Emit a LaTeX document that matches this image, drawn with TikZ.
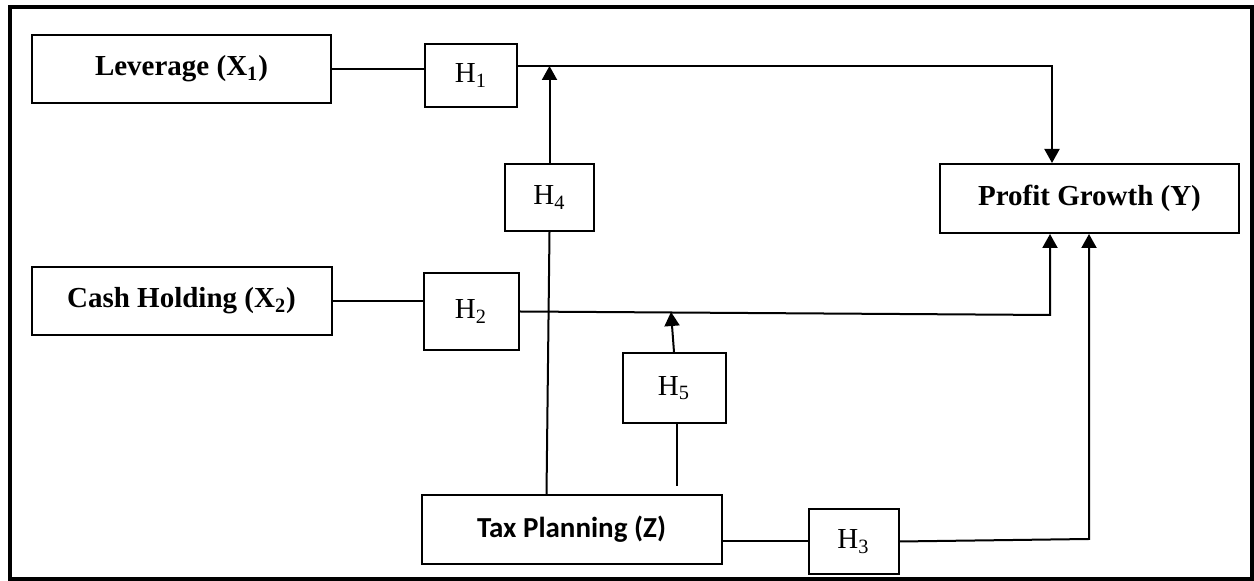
\documentclass[tikz,border=0pt]{standalone}
\usepackage{fontspec}
\setmainfont{Liberation Serif}
\newfontfamily\calibfont{Carlito}
\usetikzlibrary{positioning,arrows.meta,calc}

\begin{document}
\begin{tikzpicture}[x=0.5pt, y=-0.5pt, line width=1pt,
    main/.style = {draw, rectangle, inner sep=0pt, font=\fontsize{14.5pt}{17pt}\selectfont\bfseries},
    hyp/.style = {draw, rectangle, inner sep=0pt, font=\fontsize{14.5pt}{17pt}\selectfont},
    arr/.style = {-{Triangle[length=7pt,width=7.5pt]}}]
    \useasboundingbox (0,0) rectangle (1254,581);
    \draw[line width=2pt] (10,7.5) rectangle (1252,579);
    \node[main, minimum width=149.5pt, minimum height=34pt] (lev) at (181.5,69) {Leverage (X\textsubscript{1})};
    \node[main, minimum width=150pt, minimum height=34pt] (cash) [below=81pt of lev] {Cash Holding (X\textsubscript{2})};
    \node[hyp, minimum width=46pt, minimum height=31.5pt] (h1) [right=46pt of lev, yshift=-3.25pt] {H\textsubscript{1}};
    \node[hyp, minimum width=47.5pt, minimum height=38.5pt] (h2) [right=45pt of cash, yshift=-5.25pt] {H\textsubscript{2}};
    \node[hyp, minimum width=44.5pt, minimum height=33.5pt] (h4) [below=27.5pt of h1, xshift=39.25pt] {H\textsubscript{4}};
    \node[main, minimum width=149.5pt, minimum height=34.5pt] (prof) [below right=27.5pt and 210.5pt of h1] {Profit Growth (Y)};
    \node[main, minimum width=150pt, minimum height=34.5pt, font=\fontsize{14.5pt}{17pt}\selectfont\calibfont\bfseries] (tax) [below right=79pt and 44pt of cash] {Tax Planning (Z)};
    \node[hyp, minimum width=45pt, minimum height=32.5pt] (h3) [right=42.5pt of tax, yshift=-6pt] {H\textsubscript{3}};
    \node[hyp, minimum width=51.5pt, minimum height=35pt] (h5) [above=35pt of tax, xshift=51.25pt] {H\textsubscript{5}};
    % bends of the connectors
    \coordinate (c1) at (1052,66);
    \coordinate (c2) at (1050,315);
    \coordinate (c3) at (1089,539);
    \coordinate (c4) at (671,312);
    \coordinate (c5) at (677,486);
    \draw (lev.east) -- (lev.east -| h1.west);
    \draw[arr] (h1.east |- c1) -- (c1) -- (c1 |- prof.north);
    \draw (cash.east) -- (cash.east -| h2.west);
    \draw[arr] (h2.east) -- (c2) -- (c2 |- prof.south);
    \draw (h3.west -| tax.east) -- (h3.west);
    \draw[arr] (h3.east) -- (c3) -- (c3 |- prof.south);
    \draw ($(tax.north)+(-25,0)$) -- (h4.south);
    \draw[arr] (h4.north) -- (h4.north |- c1);
    \draw (h5.south -| c5) -- (c5);
    \draw[arr] (h5.north) -- (c4);
\end{tikzpicture}
\end{document}
